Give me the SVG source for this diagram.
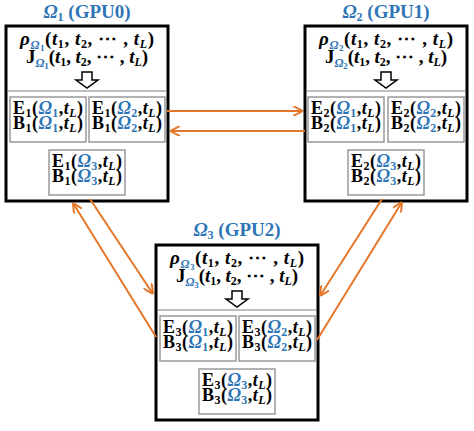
<svg xmlns="http://www.w3.org/2000/svg" width="474" height="431" viewBox="0 0 474 431">
<defs>
<style>
.t{font-family:"Liberation Serif","DejaVu Serif",serif;font-weight:bold;fill:#000;text-anchor:middle}
.f{font-size:19px}
.m{font-size:18px}
.i{font-style:italic}
.bl{fill:#2E75B6}
.s{font-size:12px}
.ss{font-size:9px}
.box{fill:#fff;stroke:#000;stroke-width:3}
.sb{fill:#fff;stroke:#999;stroke-width:1.5}
.dv{stroke:#aaa;stroke-width:1.5}
.ha{fill:#fff;stroke:#000;stroke-width:1.5;stroke-linejoin:miter}
.c{stroke:#E5772A;stroke-width:2;fill:none}
</style>
<marker id="ah" viewBox="0 0 10 10" refX="10" refY="5" markerWidth="10" markerHeight="10" markerUnits="userSpaceOnUse" orient="auto">
<path d="M0,0 L10,5 L0,10" fill="none" stroke="#E5772A" stroke-width="2"/>
</marker>
</defs>

<g id="gpu0">
<text class="t f bl" x="87" y="18"><tspan class="i">Ω</tspan><tspan class="s" dy="3">1</tspan><tspan dy="-3"> (GPU0)</tspan></text>
<rect class="box" x="6" y="26" width="162" height="175"/>
<text class="t f" x="87" y="45" textLength="134" lengthAdjust="spacing"><tspan class="i">ρ</tspan><tspan class="i bl s" dy="4">Ω</tspan><tspan class="bl ss" dy="2">1</tspan><tspan dy="-6">(</tspan><tspan class="i">t</tspan><tspan class="s" dy="3">1</tspan><tspan dy="-3">, </tspan><tspan class="i">t</tspan><tspan class="s" dy="3">2</tspan><tspan dy="-3">, ⋯ , </tspan><tspan class="i">t</tspan><tspan class="s i" dy="3">L</tspan><tspan dy="-3">)</tspan></text>
<text class="t f" x="87" y="63" textLength="122" lengthAdjust="spacing"><tspan>J</tspan><tspan class="i bl s" dy="4">Ω</tspan><tspan class="bl ss" dy="2">1</tspan><tspan dy="-6">(</tspan><tspan class="i">t</tspan><tspan class="s" dy="3">1</tspan><tspan dy="-3">, </tspan><tspan class="i">t</tspan><tspan class="s" dy="3">2</tspan><tspan dy="-3">, ⋯ , </tspan><tspan class="i">t</tspan><tspan class="s i" dy="3">L</tspan><tspan dy="-3">)</tspan></text>
<polygon class="ha" points="82,72 92,72 92,80 98,80 87,88 76,80 82,80"/>
<line class="dv" x1="8" y1="91" x2="166" y2="91"/>
<rect class="sb" x="10" y="97" width="76" height="45"/>
<text class="t m" x="48" y="114" textLength="70" lengthAdjust="spacing">E<tspan class="s" dy="3">1</tspan><tspan dy="-3">(</tspan><tspan class="i bl">Ω</tspan><tspan class="s bl" dy="3">1</tspan><tspan dy="-3">,</tspan><tspan class="i">t</tspan><tspan class="s i" dy="3">L</tspan><tspan dy="-3">)</tspan></text>
<text class="t m" x="48" y="129" textLength="70" lengthAdjust="spacing">B<tspan class="s" dy="3">1</tspan><tspan dy="-3">(</tspan><tspan class="i bl">Ω</tspan><tspan class="s bl" dy="3">1</tspan><tspan dy="-3">,</tspan><tspan class="i">t</tspan><tspan class="s i" dy="3">L</tspan><tspan dy="-3">)</tspan></text>
<rect class="sb" x="89" y="97" width="76" height="45"/>
<text class="t m" x="127" y="114" textLength="70" lengthAdjust="spacing">E<tspan class="s" dy="3">1</tspan><tspan dy="-3">(</tspan><tspan class="i bl">Ω</tspan><tspan class="s bl" dy="3">2</tspan><tspan dy="-3">,</tspan><tspan class="i">t</tspan><tspan class="s i" dy="3">L</tspan><tspan dy="-3">)</tspan></text>
<text class="t m" x="127" y="129" textLength="70" lengthAdjust="spacing">B<tspan class="s" dy="3">1</tspan><tspan dy="-3">(</tspan><tspan class="i bl">Ω</tspan><tspan class="s bl" dy="3">2</tspan><tspan dy="-3">,</tspan><tspan class="i">t</tspan><tspan class="s i" dy="3">L</tspan><tspan dy="-3">)</tspan></text>
<rect class="sb" x="49" y="150" width="76" height="45"/>
<text class="t m" x="87" y="167" textLength="70" lengthAdjust="spacing">E<tspan class="s" dy="3">1</tspan><tspan dy="-3">(</tspan><tspan class="i bl">Ω</tspan><tspan class="s bl" dy="3">3</tspan><tspan dy="-3">,</tspan><tspan class="i">t</tspan><tspan class="s i" dy="3">L</tspan><tspan dy="-3">)</tspan></text>
<text class="t m" x="87" y="182" textLength="70" lengthAdjust="spacing">B<tspan class="s" dy="3">1</tspan><tspan dy="-3">(</tspan><tspan class="i bl">Ω</tspan><tspan class="s bl" dy="3">3</tspan><tspan dy="-3">,</tspan><tspan class="i">t</tspan><tspan class="s i" dy="3">L</tspan><tspan dy="-3">)</tspan></text>
</g>

<g id="gpu1">
<text class="t f bl" x="386" y="18"><tspan class="i">Ω</tspan><tspan class="s" dy="3">2</tspan><tspan dy="-3"> (GPU1)</tspan></text>
<rect class="box" x="305" y="26" width="162" height="175"/>
<text class="t f" x="386" y="45" textLength="134" lengthAdjust="spacing"><tspan class="i">ρ</tspan><tspan class="i bl s" dy="4">Ω</tspan><tspan class="bl ss" dy="2">2</tspan><tspan dy="-6">(</tspan><tspan class="i">t</tspan><tspan class="s" dy="3">1</tspan><tspan dy="-3">, </tspan><tspan class="i">t</tspan><tspan class="s" dy="3">2</tspan><tspan dy="-3">, ⋯ , </tspan><tspan class="i">t</tspan><tspan class="s i" dy="3">L</tspan><tspan dy="-3">)</tspan></text>
<text class="t f" x="386" y="63" textLength="122" lengthAdjust="spacing"><tspan>J</tspan><tspan class="i bl s" dy="4">Ω</tspan><tspan class="bl ss" dy="2">2</tspan><tspan dy="-6">(</tspan><tspan class="i">t</tspan><tspan class="s" dy="3">1</tspan><tspan dy="-3">, </tspan><tspan class="i">t</tspan><tspan class="s" dy="3">2</tspan><tspan dy="-3">, ⋯ , </tspan><tspan class="i">t</tspan><tspan class="s i" dy="3">L</tspan><tspan dy="-3">)</tspan></text>
<polygon class="ha" points="381,72 391,72 391,80 397,80 386,88 375,80 381,80"/>
<line class="dv" x1="307" y1="91" x2="465" y2="91"/>
<rect class="sb" x="308" y="97" width="76" height="45"/>
<text class="t m" x="346" y="114" textLength="70" lengthAdjust="spacing">E<tspan class="s" dy="3">2</tspan><tspan dy="-3">(</tspan><tspan class="i bl">Ω</tspan><tspan class="s bl" dy="3">1</tspan><tspan dy="-3">,</tspan><tspan class="i">t</tspan><tspan class="s i" dy="3">L</tspan><tspan dy="-3">)</tspan></text>
<text class="t m" x="346" y="129" textLength="70" lengthAdjust="spacing">B<tspan class="s" dy="3">2</tspan><tspan dy="-3">(</tspan><tspan class="i bl">Ω</tspan><tspan class="s bl" dy="3">1</tspan><tspan dy="-3">,</tspan><tspan class="i">t</tspan><tspan class="s i" dy="3">L</tspan><tspan dy="-3">)</tspan></text>
<rect class="sb" x="388" y="97" width="76" height="45"/>
<text class="t m" x="426" y="114" textLength="70" lengthAdjust="spacing">E<tspan class="s" dy="3">2</tspan><tspan dy="-3">(</tspan><tspan class="i bl">Ω</tspan><tspan class="s bl" dy="3">2</tspan><tspan dy="-3">,</tspan><tspan class="i">t</tspan><tspan class="s i" dy="3">L</tspan><tspan dy="-3">)</tspan></text>
<text class="t m" x="426" y="129" textLength="70" lengthAdjust="spacing">B<tspan class="s" dy="3">2</tspan><tspan dy="-3">(</tspan><tspan class="i bl">Ω</tspan><tspan class="s bl" dy="3">2</tspan><tspan dy="-3">,</tspan><tspan class="i">t</tspan><tspan class="s i" dy="3">L</tspan><tspan dy="-3">)</tspan></text>
<rect class="sb" x="348" y="150" width="76" height="45"/>
<text class="t m" x="386" y="167" textLength="70" lengthAdjust="spacing">E<tspan class="s" dy="3">2</tspan><tspan dy="-3">(</tspan><tspan class="i bl">Ω</tspan><tspan class="s bl" dy="3">3</tspan><tspan dy="-3">,</tspan><tspan class="i">t</tspan><tspan class="s i" dy="3">L</tspan><tspan dy="-3">)</tspan></text>
<text class="t m" x="386" y="182" textLength="70" lengthAdjust="spacing">B<tspan class="s" dy="3">2</tspan><tspan dy="-3">(</tspan><tspan class="i bl">Ω</tspan><tspan class="s bl" dy="3">3</tspan><tspan dy="-3">,</tspan><tspan class="i">t</tspan><tspan class="s i" dy="3">L</tspan><tspan dy="-3">)</tspan></text>
</g>

<g id="gpu2">
<text class="t f bl" x="237" y="236"><tspan class="i">Ω</tspan><tspan class="s" dy="3">3</tspan><tspan dy="-3"> (GPU2)</tspan></text>
<rect class="box" x="156" y="245" width="162" height="175"/>
<text class="t f" x="237" y="264" textLength="134" lengthAdjust="spacing"><tspan class="i">ρ</tspan><tspan class="i bl s" dy="4">Ω</tspan><tspan class="bl ss" dy="2">3</tspan><tspan dy="-6">(</tspan><tspan class="i">t</tspan><tspan class="s" dy="3">1</tspan><tspan dy="-3">, </tspan><tspan class="i">t</tspan><tspan class="s" dy="3">2</tspan><tspan dy="-3">, ⋯ , </tspan><tspan class="i">t</tspan><tspan class="s i" dy="3">L</tspan><tspan dy="-3">)</tspan></text>
<text class="t f" x="237" y="282" textLength="122" lengthAdjust="spacing"><tspan>J</tspan><tspan class="i bl s" dy="4">Ω</tspan><tspan class="bl ss" dy="2">3</tspan><tspan dy="-6">(</tspan><tspan class="i">t</tspan><tspan class="s" dy="3">1</tspan><tspan dy="-3">, </tspan><tspan class="i">t</tspan><tspan class="s" dy="3">2</tspan><tspan dy="-3">, ⋯ , </tspan><tspan class="i">t</tspan><tspan class="s i" dy="3">L</tspan><tspan dy="-3">)</tspan></text>
<polygon class="ha" points="232,291 242,291 242,299 248,299 237,307 226,299 232,299"/>
<line class="dv" x1="158" y1="310" x2="316" y2="310"/>
<rect class="sb" x="160" y="316" width="76" height="45"/>
<text class="t m" x="198" y="333" textLength="70" lengthAdjust="spacing">E<tspan class="s" dy="3">3</tspan><tspan dy="-3">(</tspan><tspan class="i bl">Ω</tspan><tspan class="s bl" dy="3">1</tspan><tspan dy="-3">,</tspan><tspan class="i">t</tspan><tspan class="s i" dy="3">L</tspan><tspan dy="-3">)</tspan></text>
<text class="t m" x="198" y="348" textLength="70" lengthAdjust="spacing">B<tspan class="s" dy="3">3</tspan><tspan dy="-3">(</tspan><tspan class="i bl">Ω</tspan><tspan class="s bl" dy="3">1</tspan><tspan dy="-3">,</tspan><tspan class="i">t</tspan><tspan class="s i" dy="3">L</tspan><tspan dy="-3">)</tspan></text>
<rect class="sb" x="239" y="316" width="76" height="45"/>
<text class="t m" x="277" y="333" textLength="70" lengthAdjust="spacing">E<tspan class="s" dy="3">3</tspan><tspan dy="-3">(</tspan><tspan class="i bl">Ω</tspan><tspan class="s bl" dy="3">2</tspan><tspan dy="-3">,</tspan><tspan class="i">t</tspan><tspan class="s i" dy="3">L</tspan><tspan dy="-3">)</tspan></text>
<text class="t m" x="277" y="348" textLength="70" lengthAdjust="spacing">B<tspan class="s" dy="3">3</tspan><tspan dy="-3">(</tspan><tspan class="i bl">Ω</tspan><tspan class="s bl" dy="3">2</tspan><tspan dy="-3">,</tspan><tspan class="i">t</tspan><tspan class="s i" dy="3">L</tspan><tspan dy="-3">)</tspan></text>
<rect class="sb" x="199" y="369" width="76" height="45"/>
<text class="t m" x="237" y="386" textLength="70" lengthAdjust="spacing">E<tspan class="s" dy="3">3</tspan><tspan dy="-3">(</tspan><tspan class="i bl">Ω</tspan><tspan class="s bl" dy="3">3</tspan><tspan dy="-3">,</tspan><tspan class="i">t</tspan><tspan class="s i" dy="3">L</tspan><tspan dy="-3">)</tspan></text>
<text class="t m" x="237" y="401" textLength="70" lengthAdjust="spacing">B<tspan class="s" dy="3">3</tspan><tspan dy="-3">(</tspan><tspan class="i bl">Ω</tspan><tspan class="s bl" dy="3">3</tspan><tspan dy="-3">,</tspan><tspan class="i">t</tspan><tspan class="s i" dy="3">L</tspan><tspan dy="-3">)</tspan></text>
</g>

<g id="connectors">
<line class="c" x1="167" y1="111" x2="303" y2="111" marker-end="url(#ah)"/>
<line class="c" x1="305" y1="131" x2="170" y2="131" marker-end="url(#ah)"/>
<line class="c" x1="90" y1="199" x2="153" y2="294" marker-end="url(#ah)"/>
<line class="c" x1="156" y1="337" x2="73" y2="203" marker-end="url(#ah)"/>
<line class="c" x1="382" y1="199" x2="320" y2="296" marker-end="url(#ah)"/>
<line class="c" x1="317" y1="340" x2="402" y2="202" marker-end="url(#ah)"/>
</g>
</svg>
